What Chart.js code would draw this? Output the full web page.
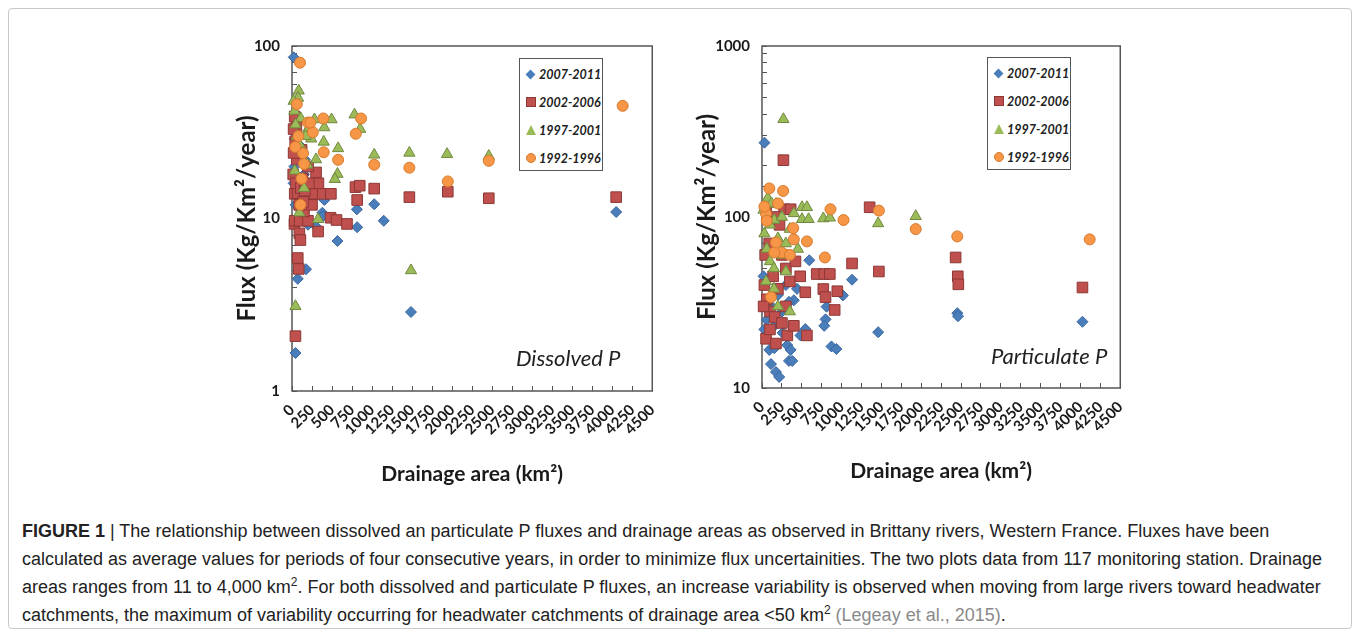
<!DOCTYPE html>
<html>
<head>
<meta charset="utf-8">
<script src="https://cdn.jsdelivr.net/npm/chart.js@4.4.0/dist/chart.umd.min.js"></script>
<style>
  html, body { margin: 0; padding: 0; background: #fff; }
  body { width: 1360px; height: 637px; position: relative; overflow: hidden; font-family: Lato, sans-serif; }
  .frame { position: absolute; left: 8px; top: 8px; width: 1342px; height: 619px; border: 1px solid #c9c9c9; border-radius: 4px; }
  canvas { position: absolute; }
  .legend { position: absolute; border: 1.5px solid #555; background: #fff; box-sizing: border-box; }
  .legend .row { position: absolute; left: 6px; height: 16px; display: flex; align-items: center; white-space: nowrap; font: italic bold 12.5px Lato, sans-serif; color: #222; }
  .legend .mk { display: inline-block; margin-right: 3px; box-sizing: border-box; flex: none; }
  .panel-label { position: absolute; font: italic 22px Lato, sans-serif; color: #222; }
  .caption { position: absolute; left: 22px; top: 517px; font: 18px "Liberation Sans", Arial, sans-serif; color: #222; line-height: 28px; white-space: nowrap; }
  .caption sup { font-size: 12px; line-height: 0; }
  .caption .ref { color: #8a8a8a; }
</style>
</head>
<body>
<div class="frame"></div>
<canvas id="dissolved" width="447" height="480" style="left:233px;top:20px"></canvas>
<canvas id="particulate" width="455" height="480" style="left:693px;top:20px"></canvas>
<div class="panel-label" style="left:516px;top:344px">Dissolved P</div>
<div class="panel-label" style="left:991px;top:342px">Particulate P</div>
<div class="caption">
  <b>FIGURE 1</b> | The relationship between dissolved an particulate P fluxes and drainage areas as observed in Brittany rivers, Western France. Fluxes have been<br>
  calculated as average values for periods of four consecutive years, in order to minimize flux uncertainities. The two plots data from 117 monitoring station. Drainage<br>
  areas ranges from 11 to 4,000 km<sup>2</sup>. For both dissolved and particulate P fluxes, an increase variability is observed when moving from large rivers toward headwater<br>
  catchments, the maximum of variability occurring for headwater catchments of drainage area &lt;50 km<sup>2</sup> <span class="ref">(Legeay et al., 2015)</span>.
</div>
<script>
// Series in legend order (first one is drawn underneath)
const SERIES = ['2007-2011', '2002-2006', '1997-2001', '1992-1996'];
const FILL = ['#4a7ebb', '#c0504d', '#9bbb59', '#f79646'];
const EDGE = ['#3a66a0', '#8c3836', '#71893f', '#d57a2e'];
const STYLE = ['rectRot', 'rect', 'triangle', 'circle'];
const RADIUS = [5.5, 7.5, 6.5, 5.5];

// Dissolved P — [drainage area km², flux kg/km²/yr]
const dissolved0711 = [[22,86],[34,29],[96,26.6],[379,10.8],[404,12.8],[386,10.3],[810,11.3],[814,8.9],[1027,12.1],[1146,9.7],[568,7.4],[72,4.47],[175,5.08],[43,1.66],[1486,2.87],[4049,10.9],[60,14],[120,11],[200,9.2],[250,13],[150,18],[30,20],[90,10],[300,9],[45,12],[20,16],[160,22]];
const dissolved0206 = [[34,39],[55,34],[76,16.6],[260,15.9],[301,18.5],[34,13.9],[178,13.9],[280,13.9],[383,13.9],[486,13.9],[793,15.2],[846,15.5],[814,12.8],[1027,14.9],[1466,13.3],[1946,14.3],[2458,13.1],[4049,13.3],[31,9.3],[92,8.2],[105,7.5],[72,5.9],[84,5.1],[43,2.08],[326,8.4],[482,10.1],[556,9.8],[687,9.3],[34,9.7],[96,9.7],[199,9.7],[150,11],[60,22],[120,25],[40,28],[200,20],[90,12],[20,33],[130,17],[250,12],[330,16],[70,14],[15,18],[50,16],[110,15],[160,14.5],[210,16],[140,12.5],[20,24]];
const dissolved9701 = [[84,55],[76,50],[781,40],[851,33],[1027,23.4],[1466,24],[1937,23.6],[2458,23],[280,37.5],[494,37.5],[404,33.7],[240,29],[396,27.8],[576,25.5],[34,18.9],[191,20.5],[568,18.1],[535,16.9],[326,9.9],[43,3.1],[1486,5.0],[60,30],[130,25],[92,10.8],[150,15],[200,33],[30,42],[110,38],[300,22],[45,35],[90,27],[170,30],[20,48]];
const dissolved9296 = [[100,80],[60,46],[863,38],[797,31],[1027,20.5],[1466,19.7],[1946,16.4],[2458,21.6],[4130,45],[199,36],[391,38],[260,31.6],[396,24.2],[576,21.9],[138,23.9],[150,20.7],[105,12],[80,30],[40,26],[120,17],[230,36]];

// Particulate P
const particulate0711 = [[31,272],[594,55.8],[1131,43],[1016,34.8],[1459,21.2],[2453,27.4],[2462,26.3],[4025,24.4],[872,17.5],[934,16.9],[798,25.2],[782,23.1],[811,29.9],[544,22.1],[483,20.3],[318,17.8],[360,16.7],[339,14.4],[380,14.4],[113,13.8],[175,12.4],[216,11.6],[92,16.7],[154,17.1],[400,32.6],[339,31.9],[60,25],[120,30],[250,28],[30,22],[200,35],[300,40],[440,38],[20,45],[150,23],[260,21]];
const particulate0206 = [[269,215],[1352,114],[51,111],[277,111],[360,111],[2432,58],[2459,45],[2466,40.4],[4025,38.7],[1468,48],[1131,53.5],[946,36.8],[913,28.6],[687,46.4],[782,46.4],[852,46.4],[770,37.9],[798,34],[544,36.3],[564,20.3],[51,19.4],[175,18.2],[318,20.3],[400,23.1],[30,40],[60,33],[100,28],[140,45],[200,38],[250,60],[300,50],[350,42],[120,95],[180,100],[220,90],[40,60],[90,70],[20,30],[160,26],[300,30],[420,55],[480,45],[100,22],[250,24]];
const particulate9701 = [[269,373],[503,114],[564,114],[770,98],[852,99],[154,96],[503,97],[585,97],[1459,91.7],[1931,101],[72,129],[175,119],[30,80],[60,65],[100,55],[150,50],[200,75],[250,60],[300,70],[350,85],[400,105],[250,100],[100,90],[50,42],[150,38],[200,30],[350,28],[300,48],[450,65],[20,110],[120,120]];
const particulate9296 = [[92,147],[265,142],[860,111],[1468,109],[1024,96],[1931,85],[51,104.5],[2453,77],[4116,74],[790,58],[564,72],[392,86],[400,74],[248,62],[154,62],[113,34],[175,71],[60,95],[200,120],[350,60],[30,115]];

const X_MAX = 4500, X_STEP = 250;
const AXIS = '#555';
const TEXT = '#1a1a1a';

// box around the plot area, drawn under the points
const frameBox = {
  id: 'frameBox',
  beforeDatasetsDraw(chart) {
    const { ctx, chartArea: a } = chart;
    ctx.save();
    ctx.strokeStyle = AXIS;
    ctx.lineWidth = 1.5;
    ctx.strokeRect(a.left, a.top, a.right - a.left, a.bottom - a.top);
    ctx.restore();
  },
};

function isDecade(v) {
  const l = Math.log10(v);
  return Math.abs(l - Math.round(l)) < 1e-9;
}

function makeChart(id, sets, yMin, yMax, yAxisWidth, padBottom) {
  return new Chart(document.getElementById(id), {
    type: 'scatter',
    data: {
      datasets: sets.map((pts, i) => ({
        label: SERIES[i],
        data: pts.map(([x, y]) => ({ x, y })),
        pointStyle: STYLE[i],
        pointRadius: RADIUS[i],
        backgroundColor: FILL[i],
        borderColor: EDGE[i],
        borderWidth: 1,
        order: sets.length - 1 - i,
        clip: false,
      })),
    },
    options: {
      responsive: false,
      animation: false,
      layout: { padding: { left: 0, top: 14, right: 20, bottom: padBottom } },
      plugins: { legend: { display: false }, tooltip: { enabled: false } },
      scales: {
        x: {
          type: 'linear', min: 0, max: X_MAX,
          border: { display: false },
          grid: { drawOnChartArea: false, drawTicks: true, tickLength: -5, color: AXIS, lineWidth: 1 },
          ticks: { stepSize: X_STEP, autoSkip: false, maxRotation: 45, minRotation: 45, padding: 15, color: TEXT,
                   font: { family: 'Lato', size: 15, weight: 'bold' }, callback: (v) => String(v) },
          title: { display: true, text: 'Drainage area (km²)', color: TEXT, padding: { top: 0, bottom: 4 },
                   font: { family: 'Lato', size: 21, weight: 'bold' } },
          afterFit(s) { s.height = 100; },
        },
        y: {
          type: 'logarithmic', min: yMin, max: yMax,
          border: { display: false },
          grid: { drawOnChartArea: false, drawTicks: true, tickLength: -5, color: AXIS, lineWidth: 1 },
          ticks: { autoSkip: false, padding: 17, color: TEXT, font: { family: 'Lato', size: 15, weight: 'bold' },
                   callback: (v) => (isDecade(v) ? String(v) : '') },
          title: { display: true, text: 'Flux (Kg/Km²/year)', color: TEXT, padding: { top: 0, bottom: 0 },
                   font: { family: 'Lato', size: 24, weight: 'bold' } },
          afterFit(s) { s.width = yAxisWidth; },
        },
      },
    },
    plugins: [frameBox],
  });
}

makeChart('dissolved', [dissolved0711, dissolved0206, dissolved9701, dissolved9296], 1, 100, 59, 9);
makeChart('particulate', [particulate0711, particulate0206, particulate9701, particulate9296], 10, 1000, 69, 12);

// Legend boxes inside each plot
function markerCss(i) {
  if (i === 0) return `width:7px;height:7px;background:${FILL[0]};transform:rotate(45deg);margin-left:1px;margin-right:5px;`;
  if (i === 1) return `width:10px;height:10px;background:${FILL[1]};border:1px solid ${EDGE[1]};`;
  if (i === 2) return `width:0;height:0;border-left:5.5px solid transparent;border-right:5.5px solid transparent;border-bottom:10px solid ${FILL[2]};`;
  return `width:10px;height:10px;border-radius:50%;background:${FILL[3]};border:1px solid ${EDGE[3]};`;
}
function addLegend(left, top) {
  const box = document.createElement('div');
  box.className = 'legend';
  Object.assign(box.style, { left: left + 'px', top: top + 'px', width: '84px', height: '113px' });
  box.innerHTML = SERIES.map((s, i) =>
    `<div class="row" style="top:${7 + i * 28}px"><span class="mk" style="${markerCss(i)}"></span>${s}</div>`).join('');
  document.body.appendChild(box);
}
addLegend(519, 58);
addLegend(987, 57);
</script>
</body>
</html>
